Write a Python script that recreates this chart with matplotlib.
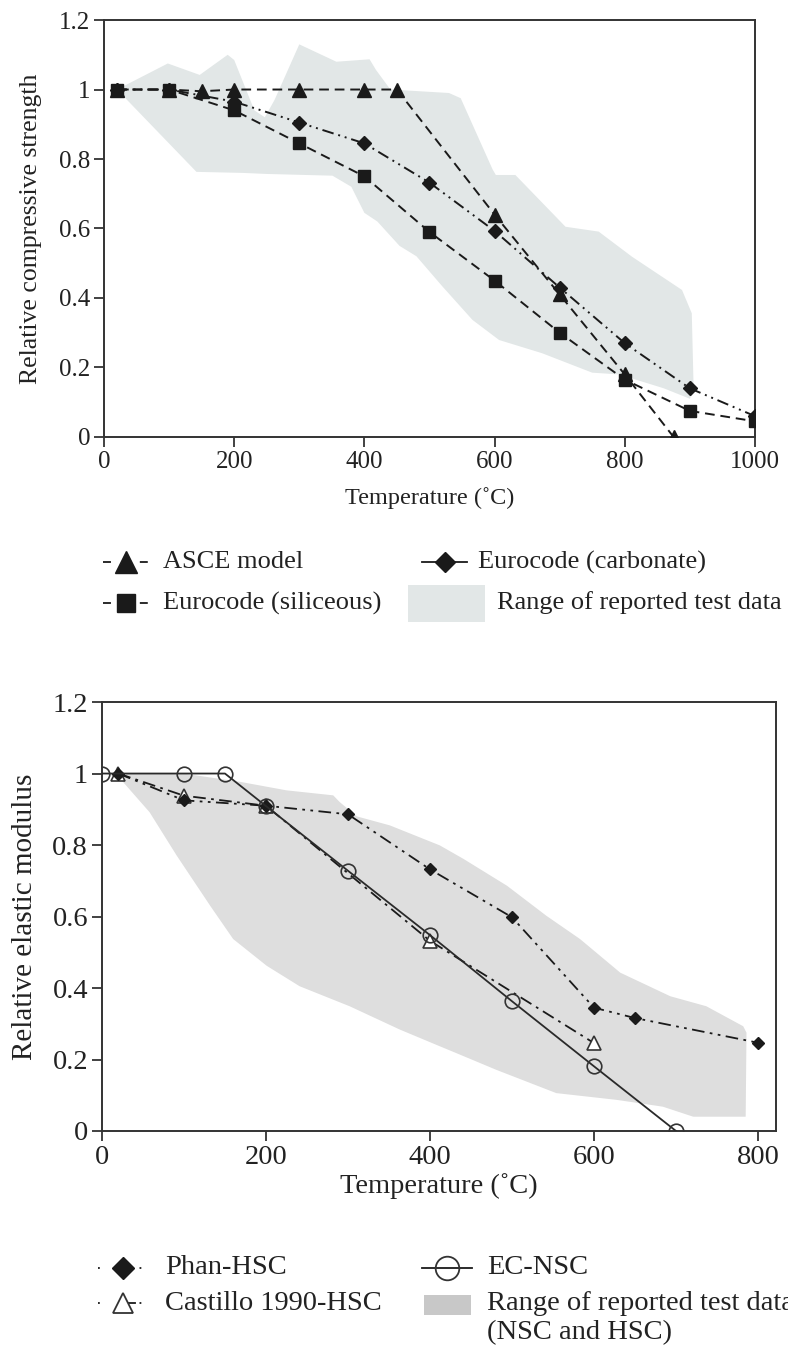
import matplotlib.pyplot as plt
from matplotlib.lines import Line2D
from matplotlib.patches import Rectangle

plt.rcParams['font.family'] = ['Liberation Serif', 'DejaVu Serif']

# ---- top chart: relative compressive strength ----
asce_t = [20, 100, 150, 200, 300, 400, 450, 600, 700, 800, 875]
asce_v = [1.0, 1.0, 0.995, 1.0, 1.0, 1.0, 1.0, 0.64, 0.41, 0.18, 0.0]

sil_t = [20, 100, 200, 300, 400, 500, 600, 700, 800, 900, 1000]
sil_v = [1.0, 1.0, 0.94, 0.845, 0.75, 0.59, 0.45, 0.30, 0.165, 0.075, 0.045]

carb_t = [20, 100, 200, 300, 400, 500, 600, 700, 800, 900, 1000]
carb_v = [1.0, 1.0, 0.965, 0.905, 0.845, 0.732, 0.593, 0.43, 0.27, 0.14, 0.06]

range1_upper_t = [20, 98, 147, 190, 200, 231, 247, 262, 300, 357, 408, 418, 440, 530, 548,
                  597, 602, 632, 709, 760, 811, 888, 903, 906]
range1_upper_v = [1.0, 1.075, 1.042, 1.1, 1.085, 0.94, 0.92, 0.97, 1.13, 1.08, 1.087, 1.056, 1.0,
                  0.99, 0.975, 0.77, 0.754, 0.754, 0.605, 0.591, 0.519, 0.423, 0.356, 0.13]
range1_lower_t = [900, 860, 791, 750, 673, 607, 566, 520, 480, 454, 420, 400, 380, 351, 250, 213, 142, 20]
range1_lower_v = [0.11, 0.14, 0.18, 0.185, 0.241, 0.279, 0.337, 0.433, 0.52, 0.55, 0.62, 0.645, 0.72,
                  0.752, 0.757, 0.76, 0.763, 1.0]

legend1_labels = ['ASCE model', 'Eurocode (siliceous)', 'Eurocode (carbonate)', 'Range of reported test data']

# ---- bottom chart: relative elastic modulus ----
phan_t = [20, 100, 200, 300, 400, 500, 600, 650, 800]
phan_v = [1.0, 0.925, 0.91, 0.886, 0.732, 0.598, 0.345, 0.316, 0.247]

cast_t = [20, 100, 200, 400, 600]
cast_v = [1.0, 0.938, 0.91, 0.532, 0.246]

ec_t = [0, 100, 150, 200, 300, 400, 500, 600, 700]
ec_v = [1.0, 1.0, 1.0, 0.909, 0.728, 0.548, 0.363, 0.181, 0.0]

range2_upper_t = [5, 99, 168, 225, 282, 290, 311, 351, 412, 441, 494, 542, 583, 632, 693, 737, 782, 786, 785]
range2_upper_v = [1.0, 1.0, 0.977, 0.953, 0.939, 0.92, 0.88, 0.855, 0.799, 0.761, 0.686, 0.602, 0.537,
                  0.443, 0.377, 0.349, 0.293, 0.275, 0.04]
range2_lower_t = [721, 684, 628, 554, 481, 432, 412, 363, 302, 241, 201, 160, 132, 91, 58, 22]
range2_lower_v = [0.04, 0.068, 0.087, 0.106, 0.171, 0.218, 0.237, 0.284, 0.349, 0.405, 0.462, 0.537,
                  0.63, 0.771, 0.892, 0.986]

legend2_labels = ['Phan-HSC', 'Castillo 1990-HSC', 'EC-NSC', 'Range of reported test data\n(NSC and HSC)']

ink = '#1a1a1a'
txt = '#222222'
W, H = 788, 1354
fig = plt.figure(figsize=(W / 100, H / 100), dpi=100)


def fx(x):
    return x / W


def fy(y):
    return 1 - y / H


def style_axes(ax, size):
    for s in ax.spines.values():
        s.set_color('#333333')
        s.set_linewidth(1.4)
    ax.tick_params(direction='out', length=7, width=1.3, color='#333333',
                   labelsize=size, labelcolor=txt, pad=3)


def legend_entry(x0, x1, y, ls, marker, ms, label, tx, size, **kw):
    fig.add_artist(Line2D([fx(x0), fx(x1)], [fy(y), fy(y)], color=ink, ls=ls, lw=1.3,
                          transform=fig.transFigure))
    fig.add_artist(Line2D([fx((x0 + x1) / 2)], [fy(y)], color=ink, ls='none', marker=marker, ms=ms,
                          transform=fig.transFigure, **kw))
    fig.text(fx(tx), fy(y), label, fontsize=size, color=txt, va='center', ha='left')


# top
ax1 = fig.add_axes([0.132, 0.6773, 0.826, 0.3079])
ax1.fill(range1_upper_t + range1_lower_t, range1_upper_v + range1_lower_v,
         color='#e2e7e7', lw=0, zorder=1)
ax1.plot(asce_t, asce_v, color=ink, ls=(0, (5, 3)), lw=1.4, marker='^', ms=9.5, zorder=3)
ax1.plot(sil_t, sil_v, color=ink, ls=(0, (5, 3)), lw=1.4, marker='s', ms=9, zorder=3)
ax1.plot(carb_t, carb_v, color=ink, ls=(0, (6, 2.5, 1, 2.5, 1, 2.5)), lw=1.4, marker='D', ms=7, zorder=3)
ax1.set_xlim(0, 1000)
ax1.set_ylim(0, 1.2)
ax1.set_xticks([0, 200, 400, 600, 800, 1000])
ax1.set_yticks([0, 0.2, 0.4, 0.6, 0.8, 1.0, 1.2])
ax1.set_yticklabels(['0', '0.2', '0.4', '0.6', '0.8', '1', '1.2'])
ax1.set_xlabel('Temperature (˚C)', fontsize=17.5, color=txt, labelpad=10)
ax1.set_ylabel('Relative compressive strength', fontsize=18.5, color=txt, labelpad=12)
style_axes(ax1, 18)

legend_entry(103, 148, 562, (0, (4.4, 16)), '^', 16, legend1_labels[0], 163, 19)
legend_entry(103, 148, 603, (0, (4.4, 16)), 's', 13, legend1_labels[1], 163, 19)
legend_entry(422, 467, 562, '-', 'D', 10, legend1_labels[2], 478, 19)
fig.add_artist(Rectangle((fx(408), fy(622)), fx(485) - fx(408), fy(585) - fy(622),
                         facecolor='#e2e7e7', edgecolor='none', transform=fig.transFigure))
fig.text(fx(497), fy(603), legend1_labels[3], fontsize=19, color=txt, va='center', ha='left')

# bottom
ax2 = fig.add_axes([0.1294, 0.1647, 0.8554, 0.3168])
ax2.fill(range2_upper_t + range2_lower_t, range2_upper_v + range2_lower_v,
         color='#dedede', lw=0, zorder=1)
ax2.plot(cast_t, cast_v, color=ink, ls=(0, (7, 3, 1.5, 3)), lw=1.3, marker='^', ms=9.5,
         mfc='white', mec='#333333', mew=1.2, zorder=3)
ax2.plot(phan_t, phan_v, color=ink, ls=(0, (7, 3, 1.5, 3, 1.5, 3)), lw=1.3, marker='D', ms=6.5, zorder=4)
ax2.plot(ec_t, ec_v, color='#2a2a2a', ls='-', lw=1.3, marker='o', ms=10.5,
         mfc='none', mec='#333333', mew=1.2, zorder=5)
ax2.set_xlim(0, 822)
ax2.set_ylim(0, 1.2)
ax2.set_xticks([0, 200, 400, 600, 800])
ax2.set_yticks([0, 0.2, 0.4, 0.6, 0.8, 1.0, 1.2])
ax2.set_yticklabels(['0', '0.2', '0.4', '0.6', '0.8', '1', '1.2'])
ax2.set_xlabel('Temperature (˚C)', fontsize=20.5, color=txt, labelpad=2)
ax2.set_ylabel('Relative elastic modulus', fontsize=21, color=txt, labelpad=10)
style_axes(ax2, 20.5)

legend_entry(98, 148, 1268, (0, (1, 22)), 'D', 11, legend2_labels[0], 165, 20.5)
legend_entry(98, 148, 1303, (0, (1, 14, 6, 2)), '^', 14, legend2_labels[1], 165, 20.5,
             mfc='white', mec='#333333', mew=1.3)
legend_entry(422, 472, 1268, '-', 'o', 17, legend2_labels[2], 487, 20.5,
             mfc='none', mec='#333333', mew=1.3)
fig.add_artist(Rectangle((fx(424), fy(1315)), fx(471) - fx(424), fy(1295) - fy(1315),
                         facecolor='#c8c8c8', edgecolor='none', transform=fig.transFigure))
fig.text(fx(487), fy(1291), legend2_labels[3], fontsize=20.5, color=txt, va='top', ha='left',
         linespacing=1.2)

fig.savefig('out.png', dpi=100)
